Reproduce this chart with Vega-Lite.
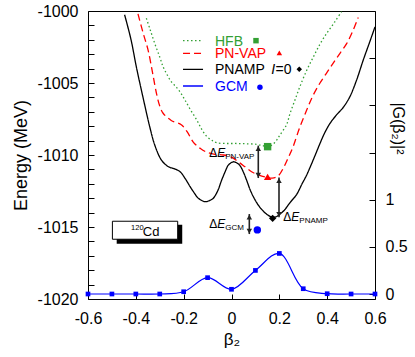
{
  "$schema": "https://vega.github.io/schema/vega-lite/v6.json",
  "width": 287,
  "height": 288,
  "autosize": {"type": "none"},
  "padding": {"left": 88, "top": 11, "right": 40, "bottom": 58},
  "config": {
    "view": {"stroke": "black", "strokeWidth": 1},
    "font": "Liberation Sans",
    "axis": {
      "grid": false,
      "domain": false,
      "labelFont": "Liberation Sans",
      "labelFontSize": 16,
      "labelColor": "black",
      "labelOverlap": false,
      "labelFlush": false,
      "tickColor": "black",
      "titleFont": "Liberation Sans",
      "titleFontWeight": "normal",
      "titleColor": "black",
      "titleFontSize": 17
    }
  },
  "datasets": {
    "curves": [
      {"s": "HFB", "b": -0.356, "e": -1000.5},
      {"s": "HFB", "b": -0.34, "e": -1001.3},
      {"s": "HFB", "b": -0.321, "e": -1002.25},
      {"s": "HFB", "b": -0.3, "e": -1003.2},
      {"s": "HFB", "b": -0.286, "e": -1003.87},
      {"s": "HFB", "b": -0.27, "e": -1004.4},
      {"s": "HFB", "b": -0.252, "e": -1004.9},
      {"s": "HFB", "b": -0.23, "e": -1005.3},
      {"s": "HFB", "b": -0.21, "e": -1005.75},
      {"s": "HFB", "b": -0.194, "e": -1006.2},
      {"s": "HFB", "b": -0.17, "e": -1006.9},
      {"s": "HFB", "b": -0.145, "e": -1007.57},
      {"s": "HFB", "b": -0.125, "e": -1008.2},
      {"s": "HFB", "b": -0.104, "e": -1008.7},
      {"s": "HFB", "b": -0.08, "e": -1009.0},
      {"s": "HFB", "b": -0.062, "e": -1009.15},
      {"s": "HFB", "b": -0.02, "e": -1009.2},
      {"s": "HFB", "b": 0.022, "e": -1009.2},
      {"s": "HFB", "b": 0.06, "e": -1009.22},
      {"s": "HFB", "b": 0.105, "e": -1009.26},
      {"s": "HFB", "b": 0.13, "e": -1009.35},
      {"s": "HFB", "b": 0.151, "e": -1009.42},
      {"s": "HFB", "b": 0.17, "e": -1009.3},
      {"s": "HFB", "b": 0.189, "e": -1008.96},
      {"s": "HFB", "b": 0.203, "e": -1008.6},
      {"s": "HFB", "b": 0.23, "e": -1007.9},
      {"s": "HFB", "b": 0.245, "e": -1007.1},
      {"s": "HFB", "b": 0.265, "e": -1006.2},
      {"s": "HFB", "b": 0.286, "e": -1005.25},
      {"s": "HFB", "b": 0.315, "e": -1004.1},
      {"s": "HFB", "b": 0.342, "e": -1003.2},
      {"s": "HFB", "b": 0.37, "e": -1002.3},
      {"s": "HFB", "b": 0.398, "e": -1001.55},
      {"s": "HFB", "b": 0.43, "e": -1000.8},
      {"s": "HFB", "b": 0.46, "e": -1000.05},
      {"s": "PN-VAP", "b": -0.391, "e": -1000.2},
      {"s": "PN-VAP", "b": -0.37, "e": -1001.5},
      {"s": "PN-VAP", "b": -0.349, "e": -1002.7},
      {"s": "PN-VAP", "b": -0.33, "e": -1004.3},
      {"s": "PN-VAP", "b": -0.314, "e": -1005.7},
      {"s": "PN-VAP", "b": -0.3, "e": -1006.6},
      {"s": "PN-VAP", "b": -0.286, "e": -1007.1},
      {"s": "PN-VAP", "b": -0.252, "e": -1007.6},
      {"s": "PN-VAP", "b": -0.21, "e": -1007.9},
      {"s": "PN-VAP", "b": -0.185, "e": -1008.4},
      {"s": "PN-VAP", "b": -0.16, "e": -1009.1},
      {"s": "PN-VAP", "b": -0.13, "e": -1009.55},
      {"s": "PN-VAP", "b": -0.104, "e": -1009.8},
      {"s": "PN-VAP", "b": -0.07, "e": -1009.95},
      {"s": "PN-VAP", "b": -0.034, "e": -1010.0},
      {"s": "PN-VAP", "b": 0.0, "e": -1010.15},
      {"s": "PN-VAP", "b": 0.028, "e": -1010.47},
      {"s": "PN-VAP", "b": 0.055, "e": -1010.8},
      {"s": "PN-VAP", "b": 0.084, "e": -1011.16},
      {"s": "PN-VAP", "b": 0.115, "e": -1011.4},
      {"s": "PN-VAP", "b": 0.147, "e": -1011.55},
      {"s": "PN-VAP", "b": 0.17, "e": -1011.6},
      {"s": "PN-VAP", "b": 0.195, "e": -1011.45},
      {"s": "PN-VAP", "b": 0.217, "e": -1010.9},
      {"s": "PN-VAP", "b": 0.237, "e": -1010.2},
      {"s": "PN-VAP", "b": 0.258, "e": -1009.4},
      {"s": "PN-VAP", "b": 0.285, "e": -1008.1},
      {"s": "PN-VAP", "b": 0.314, "e": -1006.9},
      {"s": "PN-VAP", "b": 0.34, "e": -1005.9},
      {"s": "PN-VAP", "b": 0.37, "e": -1005.0},
      {"s": "PN-VAP", "b": 0.4, "e": -1004.25},
      {"s": "PN-VAP", "b": 0.426, "e": -1003.6},
      {"s": "PN-VAP", "b": 0.455, "e": -1002.9},
      {"s": "PN-VAP", "b": 0.482, "e": -1002.25},
      {"s": "PN-VAP", "b": 0.507, "e": -1001.4},
      {"s": "PN-VAP", "b": 0.53, "e": -1000.45},
      {"s": "PNAMP", "b": -0.447, "e": -1000.26},
      {"s": "PNAMP", "b": -0.42, "e": -1002.0},
      {"s": "PNAMP", "b": -0.398, "e": -1003.87},
      {"s": "PNAMP", "b": -0.37, "e": -1006.0},
      {"s": "PNAMP", "b": -0.342, "e": -1008.03},
      {"s": "PNAMP", "b": -0.321, "e": -1009.3},
      {"s": "PNAMP", "b": -0.293, "e": -1010.35},
      {"s": "PNAMP", "b": -0.265, "e": -1010.8},
      {"s": "PNAMP", "b": -0.24, "e": -1010.95},
      {"s": "PNAMP", "b": -0.215, "e": -1011.16},
      {"s": "PNAMP", "b": -0.195, "e": -1011.6},
      {"s": "PNAMP", "b": -0.173, "e": -1012.2},
      {"s": "PNAMP", "b": -0.155, "e": -1012.65},
      {"s": "PNAMP", "b": -0.139, "e": -1013.0},
      {"s": "PNAMP", "b": -0.111, "e": -1013.24},
      {"s": "PNAMP", "b": -0.09, "e": -1013.15},
      {"s": "PNAMP", "b": -0.076, "e": -1013.0},
      {"s": "PNAMP", "b": -0.058, "e": -1012.5},
      {"s": "PNAMP", "b": -0.041, "e": -1011.74},
      {"s": "PNAMP", "b": -0.025, "e": -1011.1},
      {"s": "PNAMP", "b": -0.013, "e": -1010.7},
      {"s": "PNAMP", "b": 0.008, "e": -1010.47},
      {"s": "PNAMP", "b": 0.022, "e": -1010.55},
      {"s": "PNAMP", "b": 0.036, "e": -1010.75},
      {"s": "PNAMP", "b": 0.05, "e": -1011.2},
      {"s": "PNAMP", "b": 0.063, "e": -1011.74},
      {"s": "PNAMP", "b": 0.08, "e": -1012.5},
      {"s": "PNAMP", "b": 0.098, "e": -1013.1},
      {"s": "PNAMP", "b": 0.115, "e": -1013.55},
      {"s": "PNAMP", "b": 0.133, "e": -1013.9},
      {"s": "PNAMP", "b": 0.15, "e": -1014.15},
      {"s": "PNAMP", "b": 0.168, "e": -1014.3},
      {"s": "PNAMP", "b": 0.185, "e": -1014.3},
      {"s": "PNAMP", "b": 0.203, "e": -1014.1},
      {"s": "PNAMP", "b": 0.22, "e": -1013.85},
      {"s": "PNAMP", "b": 0.245, "e": -1013.3},
      {"s": "PNAMP", "b": 0.272, "e": -1012.75},
      {"s": "PNAMP", "b": 0.295, "e": -1012.0},
      {"s": "PNAMP", "b": 0.314, "e": -1011.4},
      {"s": "PNAMP", "b": 0.33, "e": -1010.8},
      {"s": "PNAMP", "b": 0.349, "e": -1010.05},
      {"s": "PNAMP", "b": 0.37, "e": -1009.2},
      {"s": "PNAMP", "b": 0.39, "e": -1008.45},
      {"s": "PNAMP", "b": 0.412, "e": -1007.8},
      {"s": "PNAMP", "b": 0.44, "e": -1007.2},
      {"s": "PNAMP", "b": 0.467, "e": -1006.7},
      {"s": "PNAMP", "b": 0.495, "e": -1005.95},
      {"s": "PNAMP", "b": 0.523, "e": -1004.8},
      {"s": "PNAMP", "b": 0.551, "e": -1003.4},
      {"s": "PNAMP", "b": 0.579, "e": -1002.1},
      {"s": "PNAMP", "b": 0.6, "e": -1001.1}
    ],
    "legendLines": [
      {"s": "HFB", "b": -0.2027, "b2": -0.119, "e": -1002.06},
      {"s": "PN-VAP", "b": -0.2027, "b2": -0.119, "e": -1002.94},
      {"s": "PNAMP", "b": -0.2027, "b2": -0.119, "e": -1004.05},
      {"s": "GCM", "b": -0.2027, "b2": -0.119, "e": -1005.21}
    ],
    "legendText": [
      {"s": "HFB", "t": "HFB", "b": -0.069, "e": -1002.13},
      {"s": "PN-VAP", "t": "PN-VAP", "b": -0.069, "e": -1002.99},
      {"s": "PNAMP", "t": "PNAMP", "b": -0.069, "e": -1004.1},
      {"s": "PNAMP", "t": "=0", "b": 0.184, "e": -1004.1},
      {"s": "GCM", "t": "GCM", "b": -0.069, "e": -1005.28}
    ],
    "legendItalic": [
      {"t": "I", "b": 0.166, "e": -1004.1}
    ],
    "markers": [
      {"s": "HFB", "k": "main", "b": 0.151, "e": -1009.42},
      {"s": "PN-VAP", "k": "main", "b": 0.151, "e": -1011.52},
      {"s": "PNAMP", "k": "main", "b": 0.172, "e": -1014.4},
      {"s": "GCM", "k": "main", "b": 0.108, "e": -1015.2},
      {"s": "HFB", "k": "legend", "b": 0.1024, "e": -1002.06},
      {"s": "PN-VAP", "k": "legend", "b": 0.2, "e": -1002.9},
      {"s": "PNAMP", "k": "legend", "b": 0.2834, "e": -1004.05},
      {"s": "GCM", "k": "legend", "b": 0.119, "e": -1005.3}
    ],
    "arrows": [
      {"d": "PN-VAP", "b": 0.112, "e": -1009.35, "e2": -1011.6},
      {"d": "PNAMP", "b": 0.1986, "e": -1011.57, "e2": -1014.33},
      {"d": "GCM", "b": 0.0745, "e": -1014.1, "e2": -1015.49}
    ],
    "dlabels": [
      {"sub": "PN-VAP", "b": -0.093, "e": -1010.12},
      {"sub": "PNAMP", "b": 0.2166, "e": -1014.58},
      {"sub": "GCM", "b": -0.093, "e": -1015.09}
    ],
    "box": [
      {"part": "shadow", "b": -0.48, "b2": -0.206, "e": -1014.84, "e2": -1016.16},
      {"part": "frame", "b": -0.498, "b2": -0.225, "e": -1014.6, "e2": -1015.85}
    ],
    "nucleus": [
      {"part": "mass", "t": "120", "b": -0.42, "e": -1015.23},
      {"part": "symbol", "t": "Cd", "b": -0.371, "e": -1015.62}
    ],
    "gcm": [
      {"b": -0.6, "g": 0.0},
      {"b": -0.5, "g": 0.0},
      {"b": -0.4, "g": 0.0},
      {"b": -0.3, "g": 0.0},
      {"b": -0.2, "g": 0.024},
      {"b": -0.1, "g": 0.173},
      {"b": 0.0, "g": 0.05},
      {"b": 0.1, "g": 0.25},
      {"b": 0.2, "g": 0.43},
      {"b": 0.3, "g": 0.056},
      {"b": 0.4, "g": 0.003},
      {"b": 0.5, "g": 0.0},
      {"b": 0.6, "g": 0.0}
    ]
  },
  "layer": [
    {
      "layer": [
        {
          "data": {"name": "curves"},
          "mark": {"type": "line", "interpolate": "catmull-rom", "strokeWidth": 1.3, "clip": true},
          "encoding": {
            "x": {"field": "b", "type": "quantitative", "scale": {"domain": [-0.6, 0.6], "nice": false},
              "axis": {
                "values": [-0.6, -0.5, -0.4, -0.3, -0.2, -0.1, 0, 0.1, 0.2, 0.3, 0.4, 0.5, 0.6],
                "labelExpr": "abs(round(datum.value*10)) % 2 == 0 ? (datum.value < -0.01 ? '-' + format(-datum.value, '.1f') : (abs(datum.value) < 0.01 ? '0' : format(datum.value, '.1f'))) : ''",
                "labelOverlap": false,
                "labelFlush": false,
                "tickSize": -5,
                "labelPadding": 16,
                "title": "β₂",
                "titlePadding": 5
              }},
            "y": {"field": "e", "type": "quantitative", "scale": {"domain": [-1020, -1000], "nice": false, "zero": false},
              "axis": {
                "tickCount": 20,
                "labelExpr": "abs(datum.value % 5) < 0.01 ? '-' + format(abs(datum.value), 'd') : ''",
                "labelOverlap": false,
                "labelFlush": false,
                "tickSize": -6,
                "labelPadding": 16,
                "title": "Energy (MeV)",
                "titleFontSize": 18,
                "titlePadding": 7
              }},
            "color": {"field": "s", "type": "nominal", "legend": null,
              "scale": {"domain": ["HFB", "PN-VAP", "PNAMP", "GCM"], "range": ["#33a033", "#ff0000", "#000000", "#0000ff"]}},
            "strokeDash": {"field": "s", "type": "nominal", "legend": null,
              "scale": {"domain": ["HFB", "PN-VAP", "PNAMP", "GCM"], "range": [[1.5, 2.5], [7, 4], [1, 0], [1, 0]]}}
          }
        },
        {
          "data": {"name": "box"},
          "transform": [{"filter": "datum.part == 'shadow'"}],
          "mark": {"type": "rect", "fill": "black"},
          "encoding": {
            "x": {"field": "b", "type": "quantitative"},
            "x2": {"field": "b2"},
            "y": {"field": "e", "type": "quantitative"},
            "y2": {"field": "e2"}
          }
        },
        {
          "data": {"name": "box"},
          "transform": [{"filter": "datum.part == 'frame'"}],
          "mark": {"type": "rect", "fill": "white", "stroke": "black", "strokeWidth": 1},
          "encoding": {
            "x": {"field": "b", "type": "quantitative"},
            "x2": {"field": "b2"},
            "y": {"field": "e", "type": "quantitative"},
            "y2": {"field": "e2"}
          }
        },
        {
          "data": {"name": "nucleus"},
          "transform": [{"filter": "datum.part == 'mass'"}],
          "mark": {"type": "text", "align": "left", "baseline": "alphabetic", "fontSize": 7.5, "color": "black"},
          "encoding": {
            "x": {"field": "b", "type": "quantitative"},
            "y": {"field": "e", "type": "quantitative"},
            "text": {"field": "t"}
          }
        },
        {
          "data": {"name": "nucleus"},
          "transform": [{"filter": "datum.part == 'symbol'"}],
          "mark": {"type": "text", "align": "left", "baseline": "alphabetic", "fontSize": 13, "color": "black"},
          "encoding": {
            "x": {"field": "b", "type": "quantitative"},
            "y": {"field": "e", "type": "quantitative"},
            "text": {"field": "t"}
          }
        },
        {
          "data": {"name": "legendLines"},
          "mark": {"type": "rule", "strokeWidth": 1.3},
          "encoding": {
            "x": {"field": "b", "type": "quantitative"},
            "x2": {"field": "b2"},
            "y": {"field": "e", "type": "quantitative"},
            "color": {"field": "s", "type": "nominal", "legend": null},
            "strokeDash": {"field": "s", "type": "nominal", "legend": null}
          }
        },
        {
          "data": {"name": "legendText"},
          "mark": {"type": "text", "align": "left", "baseline": "middle", "fontSize": 14},
          "encoding": {
            "x": {"field": "b", "type": "quantitative"},
            "y": {"field": "e", "type": "quantitative"},
            "text": {"field": "t"},
            "color": {"field": "s", "type": "nominal", "legend": null}
          }
        },
        {
          "data": {"name": "legendItalic"},
          "mark": {"type": "text", "align": "left", "baseline": "middle", "fontSize": 14, "fontStyle": "italic", "color": "black"},
          "encoding": {
            "x": {"field": "b", "type": "quantitative"},
            "y": {"field": "e", "type": "quantitative"},
            "text": {"field": "t"}
          }
        },
        {
          "data": {"name": "arrows"},
          "mark": {"type": "rule", "strokeWidth": 1.6, "color": "#222222"},
          "encoding": {
            "x": {"field": "b", "type": "quantitative"},
            "y": {"field": "e", "type": "quantitative"},
            "y2": {"field": "e2"}
          }
        },
        {
          "data": {"name": "arrows"},
          "mark": {"type": "point", "shape": "triangle-up", "filled": true, "size": 30, "color": "#222222", "opacity": 1, "yOffset": 3},
          "encoding": {
            "x": {"field": "b", "type": "quantitative"},
            "y": {"field": "e", "type": "quantitative"}
          }
        },
        {
          "data": {"name": "arrows"},
          "mark": {"type": "point", "shape": "triangle-down", "filled": true, "size": 30, "color": "#222222", "opacity": 1, "yOffset": -3},
          "encoding": {
            "x": {"field": "b", "type": "quantitative"},
            "y": {"field": "e2", "type": "quantitative"}
          }
        },
        {
          "data": {"name": "dlabels"},
          "mark": {"type": "text", "align": "left", "baseline": "alphabetic", "fontSize": 12, "color": "black"},
          "encoding": {
            "x": {"field": "b", "type": "quantitative"},
            "y": {"field": "e", "type": "quantitative"},
            "text": {"value": "Δ"}
          }
        },
        {
          "data": {"name": "dlabels"},
          "mark": {"type": "text", "align": "left", "baseline": "alphabetic", "fontSize": 12, "fontStyle": "italic", "dx": 8, "color": "black"},
          "encoding": {
            "x": {"field": "b", "type": "quantitative"},
            "y": {"field": "e", "type": "quantitative"},
            "text": {"value": "E"}
          }
        },
        {
          "data": {"name": "dlabels"},
          "mark": {"type": "text", "align": "left", "baseline": "alphabetic", "fontSize": 8, "dx": 16, "dy": 2, "color": "black"},
          "encoding": {
            "x": {"field": "b", "type": "quantitative"},
            "y": {"field": "e", "type": "quantitative"},
            "text": {"field": "sub"}
          }
        },
        {
          "data": {"name": "markers"},
          "mark": {"type": "point", "filled": true, "opacity": 1},
          "encoding": {
            "x": {"field": "b", "type": "quantitative"},
            "y": {"field": "e", "type": "quantitative"},
            "color": {"field": "s", "type": "nominal", "legend": null},
            "shape": {"field": "s", "type": "nominal", "legend": null,
              "scale": {"domain": ["HFB", "PN-VAP", "PNAMP", "GCM"], "range": ["square", "triangle-up", "diamond", "circle"]}},
            "size": {"field": "k", "type": "nominal", "legend": null,
              "scale": {"domain": ["main", "legend"], "range": [55, 30]}}
          }
        }
      ]
    },
    {
      "data": {"name": "gcm"},
      "layer": [
        {
          "mark": {"type": "line", "interpolate": "catmull-rom", "color": "#0000ff", "strokeWidth": 1.2},
          "encoding": {
            "x": {"field": "b", "type": "quantitative"},
            "y": {"field": "g", "type": "quantitative", "scale": {"domain": [-0.053, 3.0], "nice": false, "zero": false},
              "axis": {
                "orient": "right",
                "values": [0, 0.5, 1, 1.5, 2, 2.5, 3],
                "labelExpr": "datum.value == 0 ? '0' : datum.value == 0.5 ? '0.5' : datum.value == 1 ? '1' : ''",
                "labelOverlap": false,
                "labelFlush": false,
                "tickSize": -6,
                "labelPadding": 16,
                "title": "|G(β₂)|²",
                "titleFontSize": 16,
                "titleAngle": 90,
                "titleX": 22,
                "titleY": 117,
                "titleAlign": "center",
                "titleBaseline": "middle"
              }}
          }
        },
        {
          "mark": {"type": "point", "shape": "square", "filled": true, "size": 22, "color": "#0000ff", "opacity": 1},
          "encoding": {
            "x": {"field": "b", "type": "quantitative"},
            "y": {"field": "g", "type": "quantitative"}
          }
        }
      ]
    }
  ],
  "resolve": {"scale": {"y": "independent"}}
}
